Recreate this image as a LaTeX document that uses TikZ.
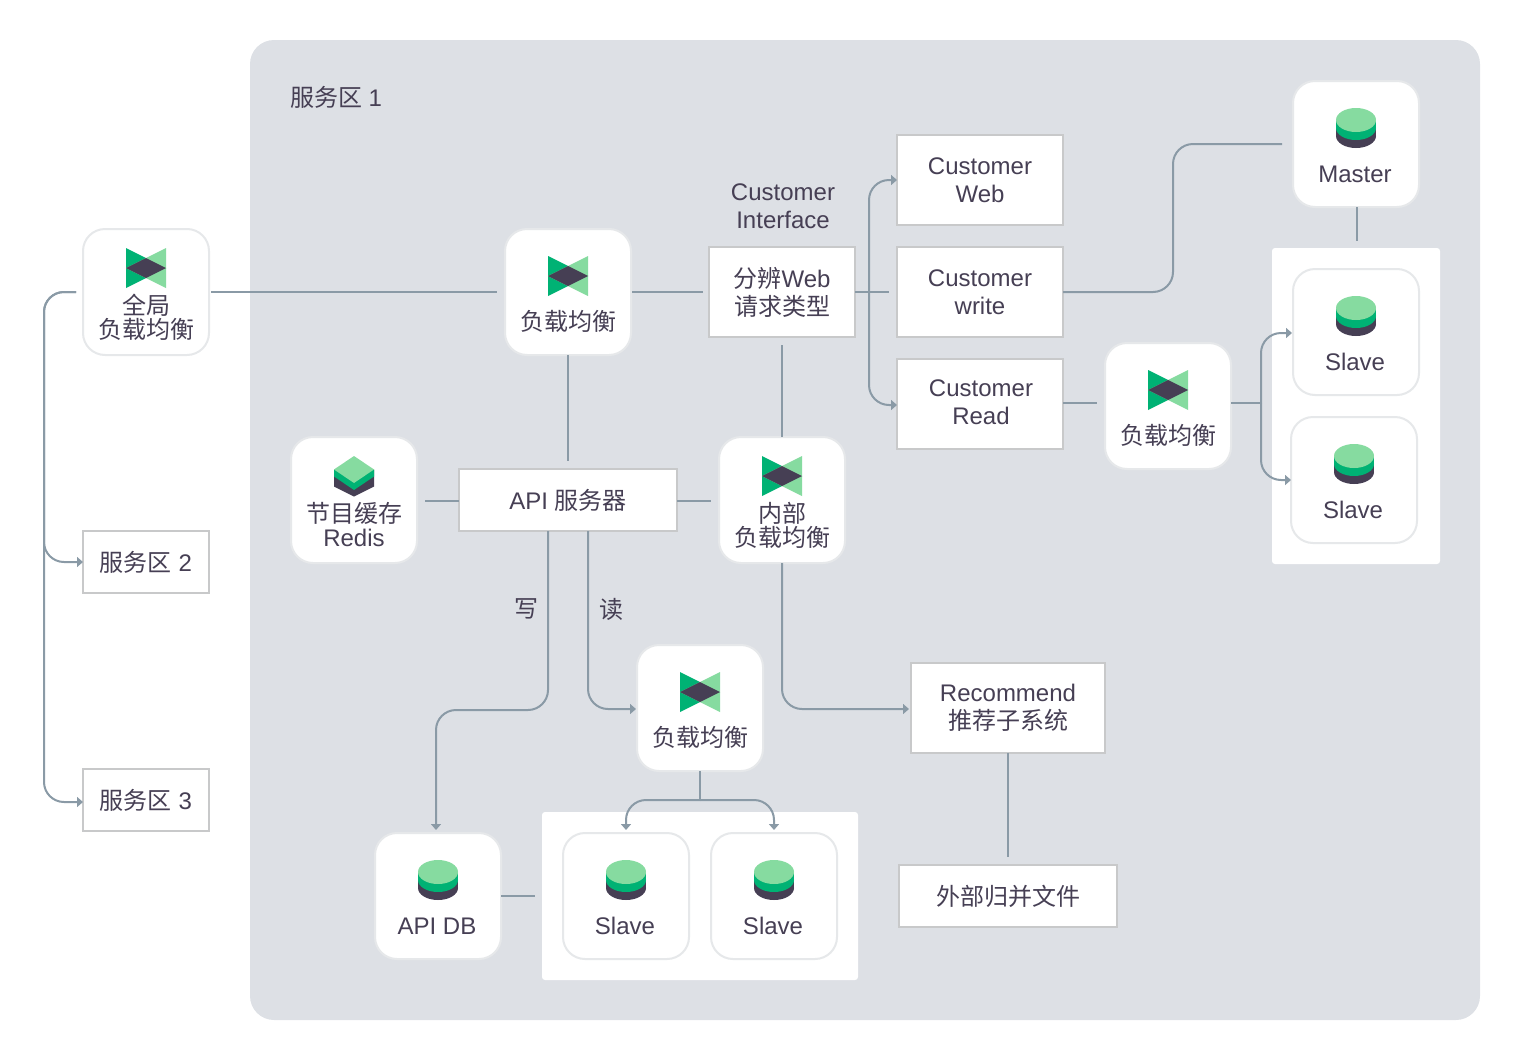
\documentclass[tikz,border=0pt]{standalone}
\usepackage{fontspec}
\setmainfont{Liberation Sans}
\newfontfamily\cjk{Noto Sans CJK SC}
\usetikzlibrary{arrows.meta,calc}
\definecolor{ink}{HTML}{463F54}
\definecolor{zone}{HTML}{DDE0E5}
\definecolor{wire}{HTML}{8A9AA6}
\definecolor{cardline}{HTML}{E6E8EA}
\definecolor{boxline}{HTML}{C8C9CA}
\definecolor{gdark}{HTML}{00B274}
\definecolor{glight}{HTML}{86DBA0}
\tikzset{
  x=1pt,y=-1pt,
  every node/.style={text=ink,inner sep=0pt,outer sep=0pt,align=center,font=\fontsize{24}{28}\selectfont},
  card/.style={draw=cardline,line width=2pt,fill=white,rounded corners=22pt,minimum width=126pt,minimum height=126pt},
  flatbox/.style={draw=boxline,line width=2pt,fill=white,minimum width=#1},
  flatbox/.default=166pt,
  tallbox/.style={minimum height=90pt},
  shortbox/.style={minimum height=62pt},
  caption/.style={font=\fontsize{24}{24}\selectfont},
  conn/.style={draw=wire,line width=2pt},
  arr/.style={conn,-{Triangle[width=10pt,length=6pt]}},
  wirebend/.style={rounded corners=20pt},
  pics/lbicon/.style={code={
    \fill[gdark] (-20,-20)--(20,0)--(-20,20)--cycle;
    \fill[glight] (20,-20)--(-20,0)--(20,20)--cycle;
    \fill[ink] (-20,0)--(0,-10)--(20,0)--(0,10)--cycle;
  }},
  pics/dbicon/.style={code={
    \fill[ink] (-20,8) rectangle (20,16);
    \fill[ink] (0,16) ellipse [x radius=20pt,y radius=12pt];
    \fill[gdark] (-20,0) rectangle (20,8);
    \fill[gdark] (0,8) ellipse [x radius=20pt,y radius=12pt];
    \fill[glight] (0,0) ellipse [x radius=20pt,y radius=12pt];
  }},
  pics/cacheicon/.style={code={
    \fill[ink] (-20,0)--(-20,17)--(0,27)--(20,17)--(20,0)--cycle;
    \fill[gdark] (-20,0)--(-20,7)--(0,20.5)--(20,7)--(20,0)--cycle;
    \fill[glight] (-20,0)--(0,-13.5)--(20,0)--(0,13.5)--cycle;
  }}
}
\begin{document}
\begin{tikzpicture}
\useasboundingbox (0,0) rectangle (1520,1060);
\fill[zone,rounded corners=24pt] (250,40) rectangle (1480,1020);
\node[anchor=west] (zonelabel) at (290,97) {{\cjk 服务区} 1};

% panels
\node[fill=white,rounded corners=3pt,minimum width=168pt,minimum height=316pt] (panelA) at (1356,406) {};
\node[fill=white,rounded corners=3pt,minimum width=316pt,minimum height=168pt] (panelB) at (700,896) {};

% cards
\node[card] (glb) at (146,292) {};
\node[card] (lbm) at (568,292) {};
\node[card] (redis) at (354,500) {};
\node[card] (ilb) at (782,500) {};
\node[card] (lbr) at (1168,406) {};
\node[card] (lbb) at (700,708) {};
\node[card] (master) at (1356,144) {};
\node[card] (slaveA) at (1356,332) {};
\node[card] (slaveB) at (1354,480) {};
\node[card] (apidb) at (438,896) {};
\node[card] (slaveC) at (626,896) {};
\node[card] (slaveD) at (774,896) {};

% icons
\pic at (146,268) {lbicon};
\pic at (568,276) {lbicon};
\pic at (782,476) {lbicon};
\pic at (1168,390) {lbicon};
\pic at (700,692) {lbicon};
\pic at (354,469.5) {cacheicon};
\pic at (1356,120) {dbicon};
\pic at (1356,308) {dbicon};
\pic at (1354,456) {dbicon};
\pic at (438,872) {dbicon};
\pic at (626,872) {dbicon};
\pic at (774,872) {dbicon};

% card captions
\node[caption] (glbt) at (146,317) {{\cjk 全局}\\{\cjk 负载均衡}};
\node[caption] (lbmt) at (568,321) {\cjk 负载均衡};
\node[caption] (redist) at (354,525) {{\cjk 节目缓存}\\Redis};
\node[caption] (ilbt) at (782,525) {{\cjk 内部}\\{\cjk 负载均衡}};
\node[caption] (lbrt) at (1168,435) {\cjk 负载均衡};
\node[caption] (lbbt) at (700,737) {\cjk 负载均衡};
\node[caption] (mastert) at (1355,174) {Master};
\node[caption] (slaveAt) at (1355,362) {Slave};
\node[caption] (slaveBt) at (1353,510) {Slave};
\node[caption] (apidbt) at (437,926) {API DB};
\node[caption] (slaveCt) at (625,926) {Slave};
\node[caption] (slaveDt) at (773,926) {Slave};

% flat boxes
\node[flatbox,tallbox] (cweb) at (980,180) {Customer\\Web};
\node[flatbox,tallbox] (cwrite) at (980,292) {Customer\\write};
\node[flatbox,tallbox] (cread) at (980,404) {};
\node (creadt) at (981,402) {Customer\\Read};
\node[flatbox=146pt,tallbox] (split) at (782,292) {{\cjk 分辨}Web\\{\cjk 请求类型}};
\node[flatbox=218pt,shortbox] (api) at (568,500) {API {\cjk 服务器}};
\node[flatbox=126pt,shortbox] (zoneB) at (146,562) {{\cjk 服务区} 2};
\node[flatbox=126pt,shortbox] (zoneC) at (146,800) {{\cjk 服务区} 3};
\node[flatbox=194pt,tallbox] (rec) at (1008,708) {Recommend\\{\cjk 推荐子系统}};
\node[flatbox=218pt,shortbox] (ext) at (1008,896) {{\cjk 外部归并文件}};

% free labels
\node (ifacet) at (783,206) {Customer\\Interface};
\node (writet) at (526,609) {\cjk 写};
\node (readt) at (611,609) {\cjk 读};

% junction points
\coordinate (tapA) at (869,292);
\coordinate (tapB) at (1261,403);
\coordinate (tapC) at (700,800);

% straight connectors
\draw[conn,shorten <=2pt,shorten >=8pt] (glb.east) -- (lbm.west);
\draw[conn,shorten <=1pt,shorten >=6pt] (lbm.east) -- (split.west);
\draw[conn,shorten >=8pt] (lbm.south) -- (api.north);
\draw[conn,shorten >=8pt] (split.east) -- (cwrite.west);
\draw[conn,shorten <=8pt] (split.south) -- (ilb.north);
\draw[conn,shorten <=8pt] ($(redis.east)+(0,1)$) -- ($(api.west)+(0,1)$);
\draw[conn,shorten >=8pt] ($(api.east)+(0,1)$) -- ($(ilb.west)+(0,1)$);
\draw[conn,shorten >=8pt] ($(cread.east)+(0,-1)$) -- (lbr.west |- tapB);
\draw[conn,shorten >=7pt] ($(master.south)+(1,0)$) -- ($(panelA.north -| master.south)+(1,0)$);
\draw[conn] (rec.south) -- ($(ext.north)+(0,-8)$);
\draw[conn,shorten >=7pt] (apidb.east) -- (panelB.west |- apidb.east);
\draw[conn] (lbr.east |- tapB) -- (tapB);
\draw[conn] (lbb.south) -- (tapC);

% branching connectors
\draw[arr,wirebend] (tapA) -- (869,180) -- (cweb.west);
\draw[arr,wirebend] (tapA) -- (869,405) -- ($(cread.west)+(0,1)$);
\draw[conn,wirebend,shorten >=11pt] (cwrite.east) -- (1173,292) -- (1173,144) -- (master.west);
\draw[arr,wirebend] (tapB) -- (1261,333) -- (1292,333);
\draw[arr,wirebend] (tapB) -- (1261,480) -- (slaveB.west);
\draw[arr,wirebend,shorten <=7pt] (glb.west) -- (44,292) -- (44,562) -- (zoneB.west);
\draw[arr,wirebend,shorten <=7pt] (glb.west) -- (44,292) -- (44,802) -- ($(zoneC.west)+(0,2)$);
\draw[arr,wirebend,shorten >=3pt] ($(api.south)+(-20,0)$) -- (548,710) -- (436,710) -- ($(apidb.north)+(-2,0)$);
\draw[arr,wirebend,shorten >=1pt] ($(api.south)+(20,0)$) -- (588,709) -- ($(lbb.west)+(0,1)$);
\draw[arr,wirebend,shorten >=2pt] (ilb.south) -- (782,709) -- ($(rec.west)+(0,1)$);
\draw[arr,wirebend,shorten >=3pt] (tapC) -- (626,800) -- (slaveC.north);
\draw[arr,wirebend,shorten >=3pt] (tapC) -- (774,800) -- (slaveD.north);
\end{tikzpicture}
\end{document}
